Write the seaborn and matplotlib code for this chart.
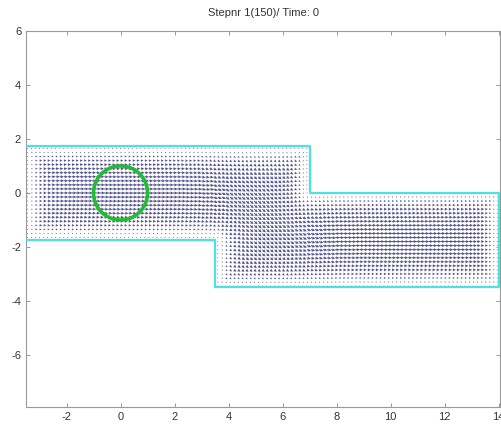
import numpy as np
import matplotlib
matplotlib.use("Agg")
import matplotlib.pyplot as plt
import seaborn as sns

# boundary of the channel (cyan), left end open
wall_x = [-3.5, 7.0, 7.0, 14.0, 14.0, 3.5, 3.5, -3.5]
wall_y = [1.75, 1.75, 0.0, 0.0, -3.5, -3.5, -1.75, -1.75]

# obstacle (green circle)
circle_x0 = 0.0
circle_y0 = 0.0
circle_r = 1.0

# relative speed vs distance to nearest wall (steps of 0.15)
speed_vs_wall = [0.12, 0.3, 0.45, 0.58, 0.68, 0.76, 0.83, 0.88, 0.92, 0.95, 0.98, 1.0]

# flow angle (deg) read at stations along x
station_x = [-3.5, 2.0, 2.6, 3.1, 3.6, 4.1, 4.6, 5.1, 5.6, 6.1, 6.6, 7.1, 7.6, 8.2, 9.0]
station_angle = [0, -2, -6, -14, -26, -36, -40, -41, -40, -36, -28, -18, -9, -3, 0]

xticks = [-2, 0, 2, 4, 6, 8, 10, 12, 14]
yticks = [-6, -4, -2, 0, 2, 4, 6]
title = "Stepnr 1(150)/ Time: 0"

sns.set_style("ticks")
plt.rcParams['font.family'] = ['Liberation Sans', 'DejaVu Sans']
plt.rcParams['axes.unicode_minus'] = False

fig = plt.figure(figsize=(5.01, 4.30), dpi=100)
ax = fig.add_axes([26 / 501, 23 / 430, 474 / 501, 376 / 430])


def seg_dist(px, py, ax0, ay0, ax1, ay1):
    dx, dy = ax1 - ax0, ay1 - ay0
    t = ((px - ax0) * dx + (py - ay0) * dy) / (dx * dx + dy * dy)
    t = np.clip(t, 0, 1)
    return np.hypot(px - (ax0 + t * dx), py - (ay0 + t * dy))


def inside(px, py):
    up = (px > -3.5) & (px < 7.0) & (py > -1.75) & (py < 1.75)
    low = (px > 3.5) & (px < 14.0) & (py > -3.5) & (py < 0.0)
    return up | low


gx, gy = np.meshgrid(np.arange(-3.45, 14.0, 0.15), np.arange(-3.45, 1.7, 0.15))
gx, gy = gx.ravel(), gy.ravel()
keep = inside(gx, gy)
gx, gy = gx[keep], gy[keep]

px = wall_x + [wall_x[0]]
py = wall_y + [wall_y[0]]
dist = np.full(gx.shape, 99.0)
for i in range(len(px) - 1):
    dist = np.minimum(dist, seg_dist(gx, gy, px[i], py[i], px[i + 1], py[i + 1]))
idx = np.clip((dist / 0.15).astype(int), 0, len(speed_vs_wall) - 1)
speed = np.array(speed_vs_wall)[idx]

st = np.array(station_x)
near = np.abs(gx[:, None] - st[None, :]).argmin(axis=1)
ang = np.deg2rad(np.array(station_angle)[near])
u = speed * np.cos(ang) * 0.17
v = speed * np.sin(ang) * 0.17

ax.quiver(gx, gy, u, v, angles="xy", scale_units="xy", scale=1,
          color="#26266e", width=0.0021, headwidth=3.2, headlength=3.2,
          headaxislength=2.8, alpha=0.8, zorder=2)

sns.lineplot(x=wall_x, y=wall_y, sort=False, estimator=None, color="#4fe0e0",
             linewidth=1.6, ax=ax, zorder=3)
th = np.linspace(0, 2 * np.pi, 200)
ax.plot(circle_x0 + circle_r * np.cos(th), circle_y0 + circle_r * np.sin(th),
        color="#22bb33", linewidth=2.6, zorder=4)

ax.set_xlim(-3.5, 14.05)
ax.set_ylim(-7.93, 6.0)
ax.set_xticks(xticks)
ax.set_yticks(yticks)
ax.tick_params(direction="in", length=3, width=0.6, colors="#888888",
               labelcolor="#333333", labelsize=8, top=True, right=True)
for s in ax.spines.values():
    s.set_color("#999999")
    s.set_linewidth(0.8)
ax.set_title(title, fontsize=8, color="#333333", pad=11)

fig.savefig("out.png", dpi=100)
